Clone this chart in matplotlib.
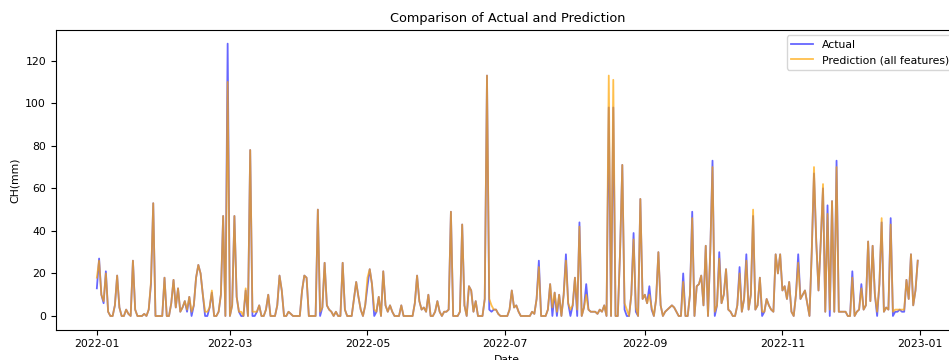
import numpy as np
import pandas as pd
import matplotlib
matplotlib.use("Agg")
import matplotlib.pyplot as plt

# daily CH(mm), actual values, one list per month of 2022
jan = [13, 27, 10, 6, 21, 2, 0, 0, 5, 19, 4, 0, 0, 3, 1, 0, 26, 3, 0, 0, 0, 1, 0, 3, 15, 53, 0, 0, 0, 0, 18]
feb = [0, 0, 6, 17, 4, 13, 2, 4, 7, 2, 9, 0, 5, 18, 24, 20, 10, 0, 0, 4, 11, 0, 0, 2, 10, 47, 0, 128]
mar = [0, 5, 47, 9, 2, 0, 0, 12, 0, 78, 0, 0, 2, 5, 0, 0, 3, 10, 0, 0, 0, 5, 19, 12, 0, 0, 2, 1, 0, 0, 0]
apr = [0, 12, 19, 18, 0, 0, 0, 0, 50, 0, 4, 25, 5, 3, 2, 0, 2, 0, 0, 25, 3, 0, 0, 0, 8, 16, 9, 3, 0, 5]
may = [14, 22, 15, 0, 2, 9, 0, 21, 5, 2, 5, 2, 0, 0, 0, 5, 0, 0, 0, 0, 0, 6, 19, 7, 3, 4, 2, 10, 0, 0, 2]
jun = [7, 2, 0, 2, 2, 3, 49, 0, 0, 0, 2, 43, 5, 0, 14, 12, 2, 7, 0, 0, 0, 8, 113, 3, 2, 3, 3, 1, 0, 0]
jul = [0, 0, 3, 12, 4, 5, 2, 0, 0, 0, 0, 0, 2, 1, 8, 26, 0, 0, 0, 3, 15, 0, 11, 0, 10, 0, 10, 29, 6, 0, 5]
aug = [18, 0, 44, 0, 4, 15, 3, 2, 2, 2, 1, 3, 2, 5, 0, 98, 0, 98, 0, 0, 30, 71, 3, 0, 0, 10, 39, 2, 0, 55, 8]
sep = [10, 6, 14, 3, 0, 8, 30, 5, 0, 2, 3, 4, 5, 4, 2, 0, 0, 20, 0, 0, 10, 49, 0, 14, 15, 19, 5, 33, 0, 30]
oct_ = [73, 0, 5, 30, 6, 10, 22, 3, 2, 0, 0, 5, 23, 2, 8, 29, 3, 10, 47, 3, 5, 18, 0, 2, 8, 5, 3, 2, 29, 20, 29]
nov = [12, 14, 8, 16, 2, 0, 10, 29, 8, 10, 12, 6, 0, 30, 67, 35, 12, 35, 60, 2, 52, 0, 54, 2, 73, 2, 2, 2, 2, 0]
dec = [0, 21, 0, 2, 3, 15, 3, 5, 35, 7, 33, 10, 0, 15, 44, 2, 4, 3, 46, 0, 2, 2, 3, 2, 2, 17, 8, 29, 5, 12, 26]

# prediction (all features)
jan_p = [18, 26, 10, 7, 20, 2, 0, 0, 5, 19, 4, 0, 0, 3, 1, 0, 26, 3, 0, 0, 0, 1, 0, 3, 16, 53, 0, 0, 0, 0, 18]
feb_p = [0, 0, 6, 17, 4, 13, 2, 4, 7, 3, 9, 2, 5, 18, 24, 20, 10, 2, 2, 4, 12, 0, 0, 2, 10, 47, 0, 110]
mar_p = [0, 5, 47, 9, 2, 2, 0, 13, 0, 78, 2, 2, 2, 5, 0, 0, 3, 10, 0, 0, 0, 5, 19, 12, 0, 0, 2, 1, 0, 0, 0]
apr_p = [0, 12, 19, 18, 0, 0, 0, 0, 50, 2, 4, 25, 5, 3, 2, 0, 2, 0, 0, 25, 3, 0, 0, 0, 8, 16, 9, 3, 0, 5]
may_p = [18, 22, 15, 3, 2, 9, 0, 21, 5, 2, 5, 2, 0, 0, 0, 5, 0, 0, 0, 0, 0, 6, 19, 7, 3, 4, 2, 10, 0, 0, 2]
jun_p = [7, 2, 0, 2, 2, 3, 49, 0, 0, 0, 2, 43, 5, 0, 14, 12, 2, 7, 0, 0, 0, 8, 113, 8, 5, 3, 3, 1, 0, 0]
jul_p = [0, 0, 3, 12, 4, 5, 2, 0, 0, 0, 0, 0, 2, 1, 8, 23, 0, 0, 0, 3, 15, 4, 11, 2, 10, 0, 10, 26, 6, 3, 5]
aug_p = [18, 3, 42, 0, 4, 10, 3, 2, 2, 2, 1, 3, 2, 5, 0, 113, 0, 111, 0, 0, 30, 71, 6, 3, 0, 10, 36, 4, 0, 55, 8]
sep_p = [10, 6, 10, 4, 0, 8, 30, 5, 0, 2, 3, 4, 5, 4, 2, 0, 0, 16, 0, 0, 10, 46, 0, 14, 15, 19, 5, 33, 0, 30]
oct_p = [70, 2, 5, 27, 6, 10, 22, 3, 2, 0, 0, 5, 20, 2, 8, 26, 3, 10, 50, 3, 5, 18, 2, 2, 8, 5, 3, 2, 29, 20, 29]
nov_p = [12, 14, 8, 16, 2, 0, 10, 25, 8, 10, 12, 6, 0, 30, 70, 35, 12, 35, 62, 2, 48, 3, 54, 2, 70, 2, 2, 2, 2, 0]
dec_p = [0, 18, 0, 2, 3, 13, 3, 5, 35, 7, 33, 10, 2, 15, 46, 2, 4, 3, 43, 2, 3, 3, 3, 3, 3, 17, 8, 29, 5, 12, 26]

actual = jan + feb + mar + apr + may + jun + jul + aug + sep + oct_ + nov + dec
pred = jan_p + feb_p + mar_p + apr_p + may_p + jun_p + jul_p + aug_p + sep_p + oct_p + nov_p + dec_p
dates = pd.date_range("2022-01-01", periods=len(actual), freq="D")

plt.rcParams["font.size"] = 7.8

fig = plt.figure(figsize=(9.49, 3.6), dpi=100)
ax = fig.add_axes([0.0588, 0.0844, 0.9515, 0.8322])

ax.plot(dates, actual, color="blue", alpha=0.6, lw=1.3, label="Actual")
ax.plot(dates, pred, color="orange", alpha=0.7, lw=1.3, label="Prediction (all features)")

ax.set_title("Comparison of Actual and Prediction", fontsize=9.3)
ax.set_xlabel("Date")
ax.set_ylabel("CH(mm)")
ax.legend(loc="upper right")

fig.savefig("out.png", dpi=100)
